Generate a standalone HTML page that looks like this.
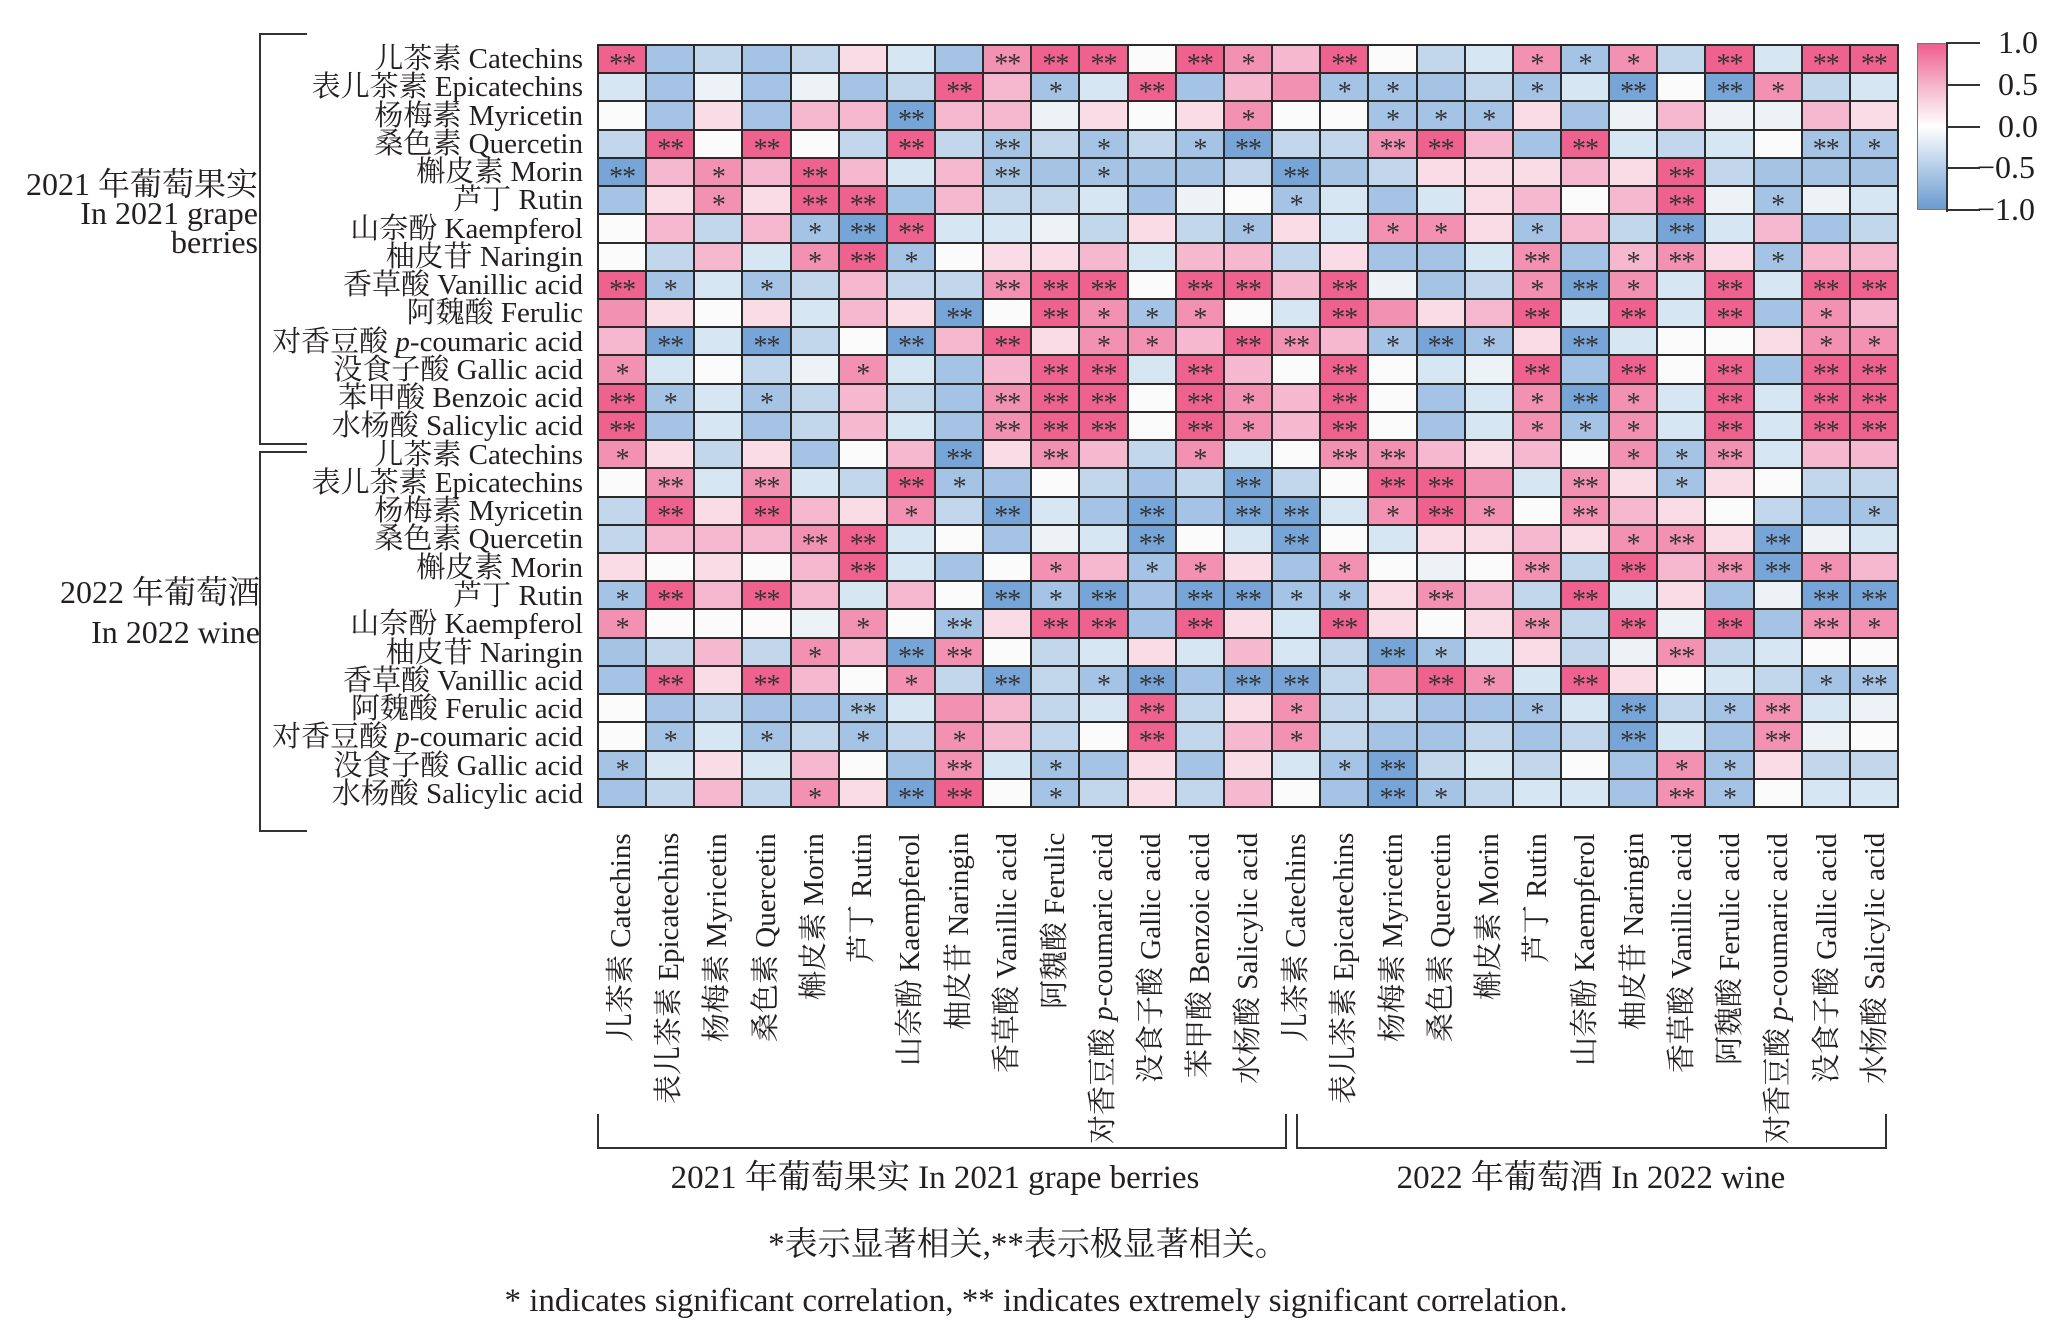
<!DOCTYPE html>
<html><head><meta charset="utf-8"><style>
body{margin:0;background:#fff;width:2057px;height:1330px;position:relative;overflow:hidden;font-family:"Liberation Serif","Noto Serif CJK SC","Noto Sans CJK SC",serif;color:#231f20}
.g{position:absolute;left:597px;top:44px;width:1302px;height:764px;background:#2a2a2a;display:grid;grid-template-columns:repeat(27,minmax(0,1fr));grid-template-rows:repeat(27,minmax(0,1fr));gap:2px;padding:2px;box-sizing:border-box;overflow:hidden}
.g i{font-style:normal;display:block;overflow:hidden;text-align:center;font-family:"Liberation Serif",serif;font-size:28px;line-height:27px;height:100%;padding-top:5px;box-sizing:border-box;color:#333;letter-spacing:-1px;min-height:0}
.a{background:#ef6290}.b{background:#f291b1}.c{background:#f5b8ce}.d{background:#f9dce6}.w{background:#fcfbfc}.v{background:#edf2f7}.e{background:#d7e6f3}.f{background:#c2d7ec}.h{background:#78a5d7}.gg{background:#a5c3e4}
.rl{position:absolute;right:1474px;height:28.26px;line-height:28.26px;font-size:29px;white-space:nowrap;text-align:right}
.cl{position:absolute;top:833px;width:48px;height:340px;line-height:48px;writing-mode:vertical-rl;text-orientation:sideways;transform:rotate(180deg);text-align:end;font-size:29px;white-space:nowrap}
.ln{position:absolute;background:#333}
.t{position:absolute;font-size:32px;white-space:nowrap}
.b2{font-size:33px}
</style></head><body>
<div class="g">
<i class="a">**</i><i class="gg"></i><i class="f"></i><i class="gg"></i><i class="f"></i><i class="d"></i><i class="e"></i><i class="gg"></i><i class="b">**</i><i class="a">**</i><i class="a">**</i><i class="w"></i><i class="a">**</i><i class="b">*</i><i class="c"></i><i class="a">**</i><i class="w"></i><i class="f"></i><i class="e"></i><i class="b">*</i><i class="gg">*</i><i class="b">*</i><i class="f"></i><i class="a">**</i><i class="e"></i><i class="a">**</i><i class="a">**</i>
<i class="e"></i><i class="gg"></i><i class="v"></i><i class="gg"></i><i class="v"></i><i class="gg"></i><i class="f"></i><i class="a">**</i><i class="c"></i><i class="gg">*</i><i class="e"></i><i class="a">**</i><i class="gg"></i><i class="c"></i><i class="b"></i><i class="gg">*</i><i class="gg">*</i><i class="gg"></i><i class="f"></i><i class="gg">*</i><i class="e"></i><i class="h">**</i><i class="w"></i><i class="h">**</i><i class="b">*</i><i class="f"></i><i class="e"></i>
<i class="w"></i><i class="gg"></i><i class="d"></i><i class="gg"></i><i class="c"></i><i class="c"></i><i class="h">**</i><i class="c"></i><i class="c"></i><i class="v"></i><i class="d"></i><i class="w"></i><i class="d"></i><i class="b">*</i><i class="w"></i><i class="w"></i><i class="gg">*</i><i class="gg">*</i><i class="gg">*</i><i class="d"></i><i class="gg"></i><i class="v"></i><i class="c"></i><i class="v"></i><i class="v"></i><i class="c"></i><i class="d"></i>
<i class="f"></i><i class="a">**</i><i class="w"></i><i class="a">**</i><i class="w"></i><i class="f"></i><i class="a">**</i><i class="f"></i><i class="gg">**</i><i class="f"></i><i class="gg">*</i><i class="f"></i><i class="gg">*</i><i class="h">**</i><i class="f"></i><i class="f"></i><i class="b">**</i><i class="a">**</i><i class="c"></i><i class="gg"></i><i class="a">**</i><i class="e"></i><i class="f"></i><i class="e"></i><i class="w"></i><i class="gg">**</i><i class="gg">*</i>
<i class="h">**</i><i class="c"></i><i class="b">*</i><i class="c"></i><i class="a">**</i><i class="c"></i><i class="e"></i><i class="c"></i><i class="gg">**</i><i class="gg"></i><i class="gg">*</i><i class="gg"></i><i class="gg"></i><i class="f"></i><i class="h">**</i><i class="gg"></i><i class="f"></i><i class="d"></i><i class="d"></i><i class="d"></i><i class="c"></i><i class="d"></i><i class="a">**</i><i class="f"></i><i class="gg"></i><i class="gg"></i><i class="gg"></i>
<i class="gg"></i><i class="d"></i><i class="b">*</i><i class="d"></i><i class="a">**</i><i class="a">**</i><i class="gg"></i><i class="c"></i><i class="f"></i><i class="f"></i><i class="e"></i><i class="gg"></i><i class="v"></i><i class="w"></i><i class="gg">*</i><i class="e"></i><i class="gg"></i><i class="e"></i><i class="d"></i><i class="c"></i><i class="w"></i><i class="c"></i><i class="a">**</i><i class="v"></i><i class="gg">*</i><i class="v"></i><i class="e"></i>
<i class="w"></i><i class="c"></i><i class="f"></i><i class="c"></i><i class="gg">*</i><i class="h">**</i><i class="a">**</i><i class="e"></i><i class="e"></i><i class="v"></i><i class="f"></i><i class="d"></i><i class="f"></i><i class="gg">*</i><i class="d"></i><i class="e"></i><i class="b">*</i><i class="b">*</i><i class="d"></i><i class="gg">*</i><i class="c"></i><i class="f"></i><i class="h">**</i><i class="e"></i><i class="c"></i><i class="gg"></i><i class="f"></i>
<i class="w"></i><i class="f"></i><i class="c"></i><i class="e"></i><i class="b">*</i><i class="a">**</i><i class="gg">*</i><i class="w"></i><i class="d"></i><i class="d"></i><i class="c"></i><i class="e"></i><i class="c"></i><i class="c"></i><i class="f"></i><i class="d"></i><i class="gg"></i><i class="gg"></i><i class="e"></i><i class="b">**</i><i class="gg"></i><i class="c">*</i><i class="b">**</i><i class="d"></i><i class="gg">*</i><i class="c"></i><i class="c"></i>
<i class="a">**</i><i class="gg">*</i><i class="e"></i><i class="gg">*</i><i class="f"></i><i class="c"></i><i class="f"></i><i class="f"></i><i class="b">**</i><i class="a">**</i><i class="a">**</i><i class="w"></i><i class="a">**</i><i class="a">**</i><i class="c"></i><i class="a">**</i><i class="v"></i><i class="gg"></i><i class="f"></i><i class="b">*</i><i class="h">**</i><i class="b">*</i><i class="e"></i><i class="a">**</i><i class="e"></i><i class="a">**</i><i class="a">**</i>
<i class="b"></i><i class="d"></i><i class="w"></i><i class="d"></i><i class="e"></i><i class="c"></i><i class="d"></i><i class="h">**</i><i class="w"></i><i class="a">**</i><i class="b">*</i><i class="gg">*</i><i class="b">*</i><i class="w"></i><i class="e"></i><i class="a">**</i><i class="b"></i><i class="d"></i><i class="c"></i><i class="a">**</i><i class="e"></i><i class="a">**</i><i class="e"></i><i class="a">**</i><i class="gg"></i><i class="b">*</i><i class="c"></i>
<i class="c"></i><i class="h">**</i><i class="e"></i><i class="h">**</i><i class="f"></i><i class="w"></i><i class="h">**</i><i class="c"></i><i class="a">**</i><i class="d"></i><i class="b">*</i><i class="b">*</i><i class="c"></i><i class="a">**</i><i class="b">**</i><i class="c"></i><i class="gg">*</i><i class="h">**</i><i class="gg">*</i><i class="d"></i><i class="h">**</i><i class="e"></i><i class="w"></i><i class="w"></i><i class="d"></i><i class="b">*</i><i class="b">*</i>
<i class="b">*</i><i class="e"></i><i class="w"></i><i class="f"></i><i class="v"></i><i class="b">*</i><i class="e"></i><i class="gg"></i><i class="c"></i><i class="a">**</i><i class="a">**</i><i class="e"></i><i class="a">**</i><i class="c"></i><i class="w"></i><i class="a">**</i><i class="w"></i><i class="e"></i><i class="v"></i><i class="a">**</i><i class="gg"></i><i class="a">**</i><i class="w"></i><i class="a">**</i><i class="gg"></i><i class="a">**</i><i class="a">**</i>
<i class="a">**</i><i class="gg">*</i><i class="e"></i><i class="gg">*</i><i class="f"></i><i class="c"></i><i class="f"></i><i class="gg"></i><i class="b">**</i><i class="a">**</i><i class="a">**</i><i class="w"></i><i class="a">**</i><i class="b">*</i><i class="c"></i><i class="a">**</i><i class="w"></i><i class="gg"></i><i class="e"></i><i class="b">*</i><i class="h">**</i><i class="b">*</i><i class="e"></i><i class="a">**</i><i class="e"></i><i class="a">**</i><i class="a">**</i>
<i class="a">**</i><i class="gg"></i><i class="e"></i><i class="gg"></i><i class="f"></i><i class="c"></i><i class="e"></i><i class="gg"></i><i class="b">**</i><i class="a">**</i><i class="a">**</i><i class="w"></i><i class="a">**</i><i class="b">*</i><i class="c"></i><i class="a">**</i><i class="w"></i><i class="gg"></i><i class="e"></i><i class="b">*</i><i class="gg">*</i><i class="b">*</i><i class="e"></i><i class="a">**</i><i class="e"></i><i class="a">**</i><i class="a">**</i>
<i class="b">*</i><i class="d"></i><i class="f"></i><i class="d"></i><i class="gg"></i><i class="w"></i><i class="c"></i><i class="h">**</i><i class="d"></i><i class="b">**</i><i class="c"></i><i class="f"></i><i class="b">*</i><i class="e"></i><i class="w"></i><i class="b">**</i><i class="b">**</i><i class="c"></i><i class="d"></i><i class="c"></i><i class="w"></i><i class="b">*</i><i class="gg">*</i><i class="b">**</i><i class="e"></i><i class="c"></i><i class="c"></i>
<i class="w"></i><i class="b">**</i><i class="e"></i><i class="b">**</i><i class="e"></i><i class="f"></i><i class="a">**</i><i class="gg">*</i><i class="gg"></i><i class="w"></i><i class="f"></i><i class="gg"></i><i class="f"></i><i class="h">**</i><i class="f"></i><i class="w"></i><i class="a">**</i><i class="a">**</i><i class="b"></i><i class="e"></i><i class="b">**</i><i class="d"></i><i class="gg">*</i><i class="d"></i><i class="w"></i><i class="f"></i><i class="f"></i>
<i class="f"></i><i class="a">**</i><i class="d"></i><i class="a">**</i><i class="c"></i><i class="d"></i><i class="b">*</i><i class="f"></i><i class="h">**</i><i class="e"></i><i class="gg"></i><i class="h">**</i><i class="gg"></i><i class="h">**</i><i class="h">**</i><i class="e"></i><i class="b">*</i><i class="a">**</i><i class="b">*</i><i class="w"></i><i class="b">**</i><i class="c"></i><i class="d"></i><i class="w"></i><i class="f"></i><i class="gg"></i><i class="gg">*</i>
<i class="f"></i><i class="c"></i><i class="c"></i><i class="c"></i><i class="b">**</i><i class="a">**</i><i class="e"></i><i class="w"></i><i class="gg"></i><i class="v"></i><i class="e"></i><i class="h">**</i><i class="w"></i><i class="e"></i><i class="h">**</i><i class="w"></i><i class="e"></i><i class="d"></i><i class="d"></i><i class="c"></i><i class="d"></i><i class="b">*</i><i class="b">**</i><i class="d"></i><i class="h">**</i><i class="v"></i><i class="e"></i>
<i class="d"></i><i class="w"></i><i class="d"></i><i class="w"></i><i class="c"></i><i class="a">**</i><i class="e"></i><i class="gg"></i><i class="w"></i><i class="b">*</i><i class="c"></i><i class="gg">*</i><i class="b">*</i><i class="d"></i><i class="gg"></i><i class="b">*</i><i class="w"></i><i class="v"></i><i class="w"></i><i class="b">**</i><i class="f"></i><i class="a">**</i><i class="c"></i><i class="b">**</i><i class="h">**</i><i class="b">*</i><i class="c"></i>
<i class="gg">*</i><i class="a">**</i><i class="c"></i><i class="a">**</i><i class="c"></i><i class="e"></i><i class="c"></i><i class="w"></i><i class="h">**</i><i class="gg">*</i><i class="h">**</i><i class="gg"></i><i class="h">**</i><i class="h">**</i><i class="gg">*</i><i class="gg">*</i><i class="d"></i><i class="b">**</i><i class="c"></i><i class="f"></i><i class="a">**</i><i class="e"></i><i class="d"></i><i class="gg"></i><i class="v"></i><i class="h">**</i><i class="h">**</i>
<i class="b">*</i><i class="w"></i><i class="w"></i><i class="w"></i><i class="v"></i><i class="b">*</i><i class="w"></i><i class="gg">**</i><i class="d"></i><i class="a">**</i><i class="a">**</i><i class="gg"></i><i class="a">**</i><i class="d"></i><i class="e"></i><i class="a">**</i><i class="d"></i><i class="w"></i><i class="d"></i><i class="b">**</i><i class="f"></i><i class="a">**</i><i class="v"></i><i class="a">**</i><i class="gg"></i><i class="b">**</i><i class="b">*</i>
<i class="gg"></i><i class="f"></i><i class="c"></i><i class="f"></i><i class="b">*</i><i class="c"></i><i class="h">**</i><i class="b">**</i><i class="w"></i><i class="f"></i><i class="e"></i><i class="d"></i><i class="e"></i><i class="c"></i><i class="e"></i><i class="f"></i><i class="h">**</i><i class="gg">*</i><i class="e"></i><i class="d"></i><i class="f"></i><i class="v"></i><i class="b">**</i><i class="f"></i><i class="e"></i><i class="w"></i><i class="w"></i>
<i class="gg"></i><i class="a">**</i><i class="d"></i><i class="a">**</i><i class="c"></i><i class="w"></i><i class="b">*</i><i class="f"></i><i class="h">**</i><i class="f"></i><i class="gg">*</i><i class="h">**</i><i class="gg"></i><i class="h">**</i><i class="h">**</i><i class="f"></i><i class="b"></i><i class="a">**</i><i class="b">*</i><i class="e"></i><i class="a">**</i><i class="d"></i><i class="w"></i><i class="e"></i><i class="f"></i><i class="gg">*</i><i class="gg">**</i>
<i class="w"></i><i class="gg"></i><i class="f"></i><i class="gg"></i><i class="gg"></i><i class="gg">**</i><i class="e"></i><i class="b"></i><i class="c"></i><i class="f"></i><i class="e"></i><i class="a">**</i><i class="f"></i><i class="d"></i><i class="b">*</i><i class="f"></i><i class="f"></i><i class="gg"></i><i class="gg"></i><i class="gg">*</i><i class="e"></i><i class="h">**</i><i class="f"></i><i class="gg">*</i><i class="b">**</i><i class="e"></i><i class="v"></i>
<i class="w"></i><i class="gg">*</i><i class="e"></i><i class="gg">*</i><i class="f"></i><i class="gg">*</i><i class="f"></i><i class="b">*</i><i class="c"></i><i class="f"></i><i class="w"></i><i class="a">**</i><i class="f"></i><i class="c"></i><i class="b">*</i><i class="f"></i><i class="gg"></i><i class="gg"></i><i class="f"></i><i class="gg"></i><i class="f"></i><i class="h">**</i><i class="e"></i><i class="gg"></i><i class="b">**</i><i class="v"></i><i class="w"></i>
<i class="gg">*</i><i class="e"></i><i class="d"></i><i class="e"></i><i class="c"></i><i class="w"></i><i class="gg"></i><i class="b">**</i><i class="e"></i><i class="gg">*</i><i class="gg"></i><i class="d"></i><i class="gg"></i><i class="d"></i><i class="e"></i><i class="gg">*</i><i class="h">**</i><i class="f"></i><i class="e"></i><i class="f"></i><i class="w"></i><i class="gg"></i><i class="b">*</i><i class="gg">*</i><i class="d"></i><i class="f"></i><i class="f"></i>
<i class="gg"></i><i class="f"></i><i class="c"></i><i class="f"></i><i class="b">*</i><i class="d"></i><i class="h">**</i><i class="a">**</i><i class="w"></i><i class="gg">*</i><i class="f"></i><i class="d"></i><i class="f"></i><i class="c"></i><i class="w"></i><i class="gg"></i><i class="h">**</i><i class="gg">*</i><i class="f"></i><i class="e"></i><i class="e"></i><i class="gg"></i><i class="b">**</i><i class="gg">*</i><i class="w"></i><i class="e"></i><i class="e"></i>
</div>

<div class="rl" style="top:45px">儿茶素 Catechins</div>
<div class="rl" style="top:73.3px">表儿茶素 Epicatechins</div>
<div class="rl" style="top:101.5px">杨梅素 Myricetin</div>
<div class="rl" style="top:129.8px">桑色素 Quercetin</div>
<div class="rl" style="top:158px">槲皮素 Morin</div>
<div class="rl" style="top:186.3px">芦丁 Rutin</div>
<div class="rl" style="top:214.6px">山奈酚 Kaempferol</div>
<div class="rl" style="top:242.8px">柚皮苷 Naringin</div>
<div class="rl" style="top:271.1px">香草酸 Vanillic acid</div>
<div class="rl" style="top:299.3px">阿魏酸 Ferulic</div>
<div class="rl" style="top:327.6px">对香豆酸 <i>p</i>-coumaric acid</div>
<div class="rl" style="top:355.9px">没食子酸 Gallic acid</div>
<div class="rl" style="top:384.1px">苯甲酸 Benzoic acid</div>
<div class="rl" style="top:412.4px">水杨酸 Salicylic acid</div>
<div class="rl" style="top:440.6px">儿茶素 Catechins</div>
<div class="rl" style="top:468.9px">表儿茶素 Epicatechins</div>
<div class="rl" style="top:497.2px">杨梅素 Myricetin</div>
<div class="rl" style="top:525.4px">桑色素 Quercetin</div>
<div class="rl" style="top:553.7px">槲皮素 Morin</div>
<div class="rl" style="top:581.9px">芦丁 Rutin</div>
<div class="rl" style="top:610.2px">山奈酚 Kaempferol</div>
<div class="rl" style="top:638.5px">柚皮苷 Naringin</div>
<div class="rl" style="top:666.7px">香草酸 Vanillic acid</div>
<div class="rl" style="top:695px">阿魏酸 Ferulic acid</div>
<div class="rl" style="top:723.2px">对香豆酸 <i>p</i>-coumaric acid</div>
<div class="rl" style="top:751.5px">没食子酸 Gallic acid</div>
<div class="rl" style="top:779.8px">水杨酸 Salicylic acid</div>

<div class="cl" style="left:597px">儿茶素 Catechins</div>
<div class="cl" style="left:645.2px">表儿茶素 Epicatechins</div>
<div class="cl" style="left:693.4px">杨梅素 Myricetin</div>
<div class="cl" style="left:741.7px">桑色素 Quercetin</div>
<div class="cl" style="left:789.9px">槲皮素 Morin</div>
<div class="cl" style="left:838.1px">芦丁 Rutin</div>
<div class="cl" style="left:886.3px">山奈酚 Kaempferol</div>
<div class="cl" style="left:934.6px">柚皮苷 Naringin</div>
<div class="cl" style="left:982.8px">香草酸 Vanillic acid</div>
<div class="cl" style="left:1031px">阿魏酸 Ferulic</div>
<div class="cl" style="left:1079.2px">对香豆酸 <i>p</i>-coumaric acid</div>
<div class="cl" style="left:1127.4px">没食子酸 Gallic acid</div>
<div class="cl" style="left:1175.7px">苯甲酸 Benzoic acid</div>
<div class="cl" style="left:1223.9px">水杨酸 Salicylic acid</div>
<div class="cl" style="left:1272.1px">儿茶素 Catechins</div>
<div class="cl" style="left:1320.3px">表儿茶素 Epicatechins</div>
<div class="cl" style="left:1368.6px">杨梅素 Myricetin</div>
<div class="cl" style="left:1416.8px">桑色素 Quercetin</div>
<div class="cl" style="left:1465px">槲皮素 Morin</div>
<div class="cl" style="left:1513.2px">芦丁 Rutin</div>
<div class="cl" style="left:1561.4px">山奈酚 Kaempferol</div>
<div class="cl" style="left:1609.7px">柚皮苷 Naringin</div>
<div class="cl" style="left:1657.9px">香草酸 Vanillic acid</div>
<div class="cl" style="left:1706.1px">阿魏酸 Ferulic acid</div>
<div class="cl" style="left:1754.3px">对香豆酸 <i>p</i>-coumaric acid</div>
<div class="cl" style="left:1802.6px">没食子酸 Gallic acid</div>
<div class="cl" style="left:1850.8px">水杨酸 Salicylic acid</div>

<div class="ln" style="left:259px;top:33px;width:2px;height:412px"></div>
<div class="ln" style="left:259px;top:33px;width:48px;height:2px"></div>
<div class="ln" style="left:259px;top:443px;width:48px;height:2px"></div>
<div class="ln" style="left:259px;top:451px;width:2px;height:381px"></div>
<div class="ln" style="left:259px;top:451px;width:48px;height:2px"></div>
<div class="ln" style="left:259px;top:830px;width:48px;height:2px"></div>
<div class="t" style="right:1799px;top:170px;text-align:right;line-height:29px">2021 年葡萄果实<br>In 2021 grape<br>berries</div>
<div class="t" style="right:1797px;top:572px;text-align:right;line-height:40px">2022 年葡萄酒<br>In 2022 wine</div>

<div class="ln" style="left:597px;top:1147px;width:690px;height:2px"></div>
<div class="ln" style="left:597px;top:1114px;width:2px;height:35px"></div>
<div class="ln" style="left:1285px;top:1114px;width:2px;height:35px"></div>
<div class="ln" style="left:1296px;top:1147px;width:591px;height:2px"></div>
<div class="ln" style="left:1296px;top:1114px;width:2px;height:35px"></div>
<div class="ln" style="left:1885px;top:1114px;width:2px;height:35px"></div>
<div class="t b2" style="left:585px;width:700px;text-align:center;top:1151px">2021 年葡萄果实 In 2021 grape berries</div>
<div class="t b2" style="left:1241px;width:700px;text-align:center;top:1151px">2022 年葡萄酒 In 2022 wine</div>
<div class="t b2" style="left:528px;width:1000px;text-align:center;top:1218px">*表示显著相关,**表示极显著相关。</div>
<div class="t b2" style="left:336px;width:1400px;text-align:center;top:1283px">* indicates significant correlation, ** indicates extremely significant correlation.</div>

<div style="position:absolute;left:1917px;top:43px;width:30px;height:167px;background:linear-gradient(#ef5e8e,#f5b5cb 25%,#ffffff 50%,#b4cde8 75%,#6a9bd0);border:1px solid #777;box-sizing:border-box"></div>
<div class="ln" style="left:1946px;top:42px;width:2px;height:170px"></div>
<div class="ln" style="left:1946px;top:42px;width:34px;height:2px"></div>
<div class="ln" style="left:1946px;top:84px;width:34px;height:2px"></div>
<div class="ln" style="left:1946px;top:126px;width:34px;height:2px"></div>
<div class="ln" style="left:1946px;top:167px;width:34px;height:2px"></div>
<div class="ln" style="left:1946px;top:209px;width:34px;height:2px"></div>
<div class="t" style="left:1998px;top:24px">1.0</div>
<div class="t" style="left:1998px;top:66px">0.5</div>
<div class="t" style="left:1998px;top:108px">0.0</div>
<div class="t" style="left:1977px;top:149px">−0.5</div>
<div class="t" style="left:1977px;top:191px">−1.0</div>
</body></html>
